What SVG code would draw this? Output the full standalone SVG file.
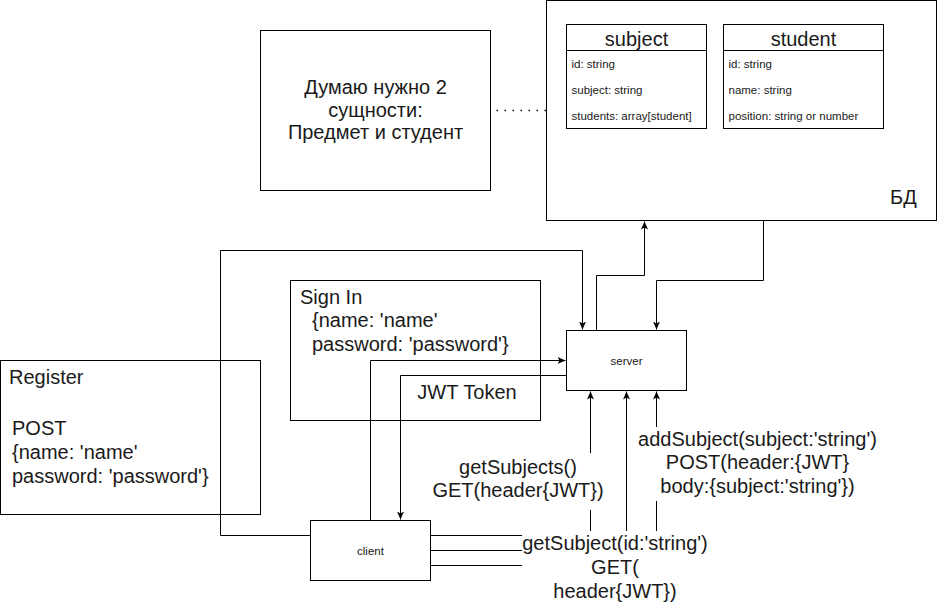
<svg xmlns="http://www.w3.org/2000/svg" width="938" height="603" viewBox="0 0 938 603">
  <style>
    .box { fill: #ffffff; stroke: #000000; stroke-width: 1; }
    .edge { fill: none; stroke: #000000; stroke-width: 1; }
    .dotted { fill: none; stroke: #000000; stroke-width: 1.3; stroke-dasharray: 1.5 6.5; }
    .lbl-bg { fill: #ffffff; stroke: none; }
    text { font-family: "Liberation Sans", Arial, Helvetica, sans-serif; fill: #1a1a1a; }
    .t20 { font-size: 20px; }
    .t12 { font-size: 11.5px; }
    .mid { text-anchor: middle; }
  </style>
  <defs>
    <marker id="arrow" markerUnits="userSpaceOnUse" markerWidth="10" markerHeight="10" refX="8" refY="3.5" orient="auto">
      <path d="M0,0 L8,3.5 L0,7 L2,3.5 Z" fill="#000000"/>
    </marker>
  </defs>

  <rect width="938" height="603" fill="#ffffff"/>

  <!-- database container -->
  <g id="db">
    <rect class="box" x="546.5" y="0.5" width="390" height="220"/>
    <text class="t20" x="890" y="203.5">БД</text>
  </g>

  <!-- entity: subject -->
  <g id="entity-subject">
    <rect class="box" x="566.5" y="24.5" width="140" height="104"/>
    <line class="edge" x1="566.5" y1="50.5" x2="706.5" y2="50.5"/>
    <text class="t20 mid" x="636.5" y="45.5">subject</text>
    <text class="t12" x="571.5" y="68">id: string</text>
    <text class="t12" x="571.5" y="94">subject: string</text>
    <text class="t12" x="571.5" y="120">students: array[student]</text>
  </g>

  <!-- entity: student -->
  <g id="entity-student">
    <rect class="box" x="723.5" y="24.5" width="160" height="104"/>
    <line class="edge" x1="723.5" y1="50.5" x2="883.5" y2="50.5"/>
    <text class="t20 mid" x="803.5" y="45.5">student</text>
    <text class="t12" x="728.5" y="68">id: string</text>
    <text class="t12" x="728.5" y="94">name: string</text>
    <text class="t12" x="728.5" y="120">position: string or number</text>
  </g>

  <!-- note about entities -->
  <g id="note">
    <rect class="box" x="260.5" y="30.5" width="230" height="160"/>
    <text class="t20 mid" x="375.5" y="94">Думаю нужно 2</text>
    <text class="t20 mid" x="375.5" y="116.5">сущности:</text>
    <text class="t20 mid" x="375.5" y="139">Предмет и студент</text>
  </g>

  <!-- register frame -->
  <g id="register">
    <rect class="box" x="0.5" y="360.5" width="260" height="154" fill-opacity="0"/>
    <text class="t20" x="9" y="383.5">Register</text>
    <text class="t20" x="12" y="434.5">POST</text>
    <text class="t20" x="12" y="458.5">{name: 'name'</text>
    <text class="t20" x="12" y="482.5">password: 'password'}</text>
  </g>

  <!-- sign in frame -->
  <g id="sign-in">
    <rect class="box" x="290.5" y="280.5" width="250" height="140"/>
    <text class="t20" x="300" y="303.5">Sign In</text>
    <text class="t20" x="312" y="327">{name: 'name'</text>
    <text class="t20" x="312" y="351">password: 'password'}</text>
    <text class="t20 mid" x="467" y="399">JWT Token</text>
  </g>

  <!-- server -->
  <g id="server">
    <rect class="box" x="566.5" y="330.5" width="120" height="60"/>
    <text class="t12 mid" x="626.5" y="365">server</text>
  </g>

  <!-- client -->
  <g id="client">
    <rect class="box" x="310.5" y="520.5" width="120" height="60"/>
    <text class="t12 mid" x="370.5" y="555">client</text>
  </g>

  <!-- connectors -->
  <g id="connectors">
    <path class="dotted" d="M496.5,110.5 L546,110.5"/>
    <!-- register: client -> server -->
    <path class="edge" d="M310.5,535.5 L220.5,535.5 L220.5,250.5 L582.5,250.5 L582.5,329.5" marker-end="url(#arrow)"/>
    <!-- sign in: client -> server -->
    <path class="edge" d="M370.5,520.5 L370.5,360.5 L565.5,360.5" marker-end="url(#arrow)"/>
    <!-- token: server -> client -->
    <path class="edge" d="M566.5,375.5 L400.5,375.5 L400.5,519.5" marker-end="url(#arrow)"/>
    <!-- server -> db -->
    <path class="edge" d="M596.5,330.5 L596.5,275.5 L644.5,275.5 L644.5,221.5" marker-end="url(#arrow)"/>
    <!-- db -> server -->
    <path class="edge" d="M763.5,220.5 L763.5,280.5 L656.5,280.5 L656.5,329.5" marker-end="url(#arrow)"/>
    <!-- api calls: client -> server -->
    <path class="edge" d="M430.5,535.5 L590.5,535.5 L590.5,391.5" marker-end="url(#arrow)"/>
    <path class="edge" d="M430.5,550.5 L626.5,550.5 L626.5,391.5" marker-end="url(#arrow)"/>
    <path class="edge" d="M430.5,565.5 L656.5,565.5 L656.5,391.5" marker-end="url(#arrow)"/>

    <g id="label-get-subjects">
      <rect class="lbl-bg" x="431" y="453" width="173" height="57"/>
      <text class="t20 mid" x="518" y="473.5">getSubjects()</text>
      <text class="t20 mid" x="518" y="497">GET(header{JWT})</text>
    </g>
    <g id="label-add-subject">
      <rect class="lbl-bg" x="637" y="427" width="242" height="74"/>
      <text class="t20 mid" x="757.5" y="445.7">addSubject(subject:'string')</text>
      <text class="t20 mid" x="757.5" y="469.3">POST(header:{JWT}</text>
      <text class="t20 mid" x="757.5" y="492.7">body:{subject:'string'})</text>
    </g>
    <g id="label-get-subject">
      <rect class="lbl-bg" x="522" y="531" width="187" height="72"/>
      <text class="t20 mid" x="615" y="550">getSubject(id:'string')</text>
      <text class="t20 mid" x="615" y="574">GET(</text>
      <text class="t20 mid" x="615" y="598">header{JWT})</text>
    </g>
  </g>
</svg>
